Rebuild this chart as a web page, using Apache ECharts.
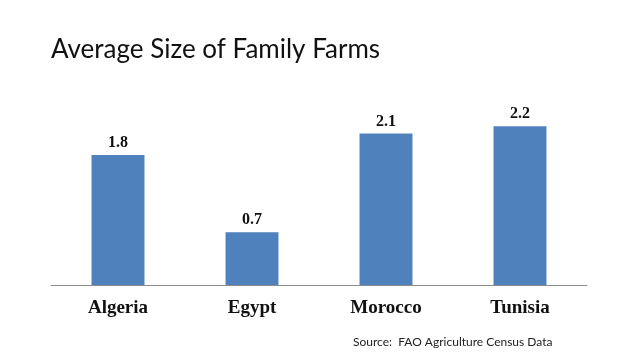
<!DOCTYPE html>
<html><head><meta charset="utf-8">
<script src="https://cdn.jsdelivr.net/npm/echarts@6/dist/echarts.min.js"></script>
<style>html,body{margin:0;padding:0;background:#fff}#c{width:638px;height:359px}</style>
</head><body><div id="c"></div>
<script>
const categories = ["Algeria", "Egypt", "Morocco", "Tunisia"];
const farmSize = [1.8, 0.73, 2.1, 2.2];
const titleText = "Average Size of Family Farms";
const sourceText = "Source:  FAO Agriculture Census Data";

const chart = echarts.init(document.getElementById('c'));
chart.setOption({
  animation: false,
  backgroundColor: '#fff',
  title: {
    text: titleText, left: 46, top: 32,
    textStyle: { fontFamily: 'Lato', fontWeight: 'normal', fontSize: 26, color: '#111' }
  },
  grid: { left: 51, right: 51, top: 68.4, bottom: 74 },
  xAxis: {
    type: 'category', data: categories,
    axisLine: { lineStyle: { color: '#8c8c8c', width: 1 } },
    axisTick: { show: false },
    axisLabel: { margin: 14, fontFamily: 'Liberation Serif', fontWeight: 'bold', fontSize: 19, color: '#111' }
  },
  yAxis: { type: 'value', min: 0, max: 3, show: false, splitLine: { show: false } },
  series: [{
    type: 'bar', data: farmSize, barWidth: '39.5%',
    itemStyle: { color: '#4F81BD' },
    label: {
      show: true, position: 'top', distance: 4,
      formatter: p => p.value.toFixed(1),
      fontFamily: 'Liberation Serif', fontWeight: 'bold', fontSize: 16, color: '#111'
    }
  }],
  graphic: [{
    type: 'text', left: 353, top: 336,
    style: { text: sourceText, fontFamily: 'Lato', fontSize: 12, fill: '#222' }
  }]
});
</script></body></html>
